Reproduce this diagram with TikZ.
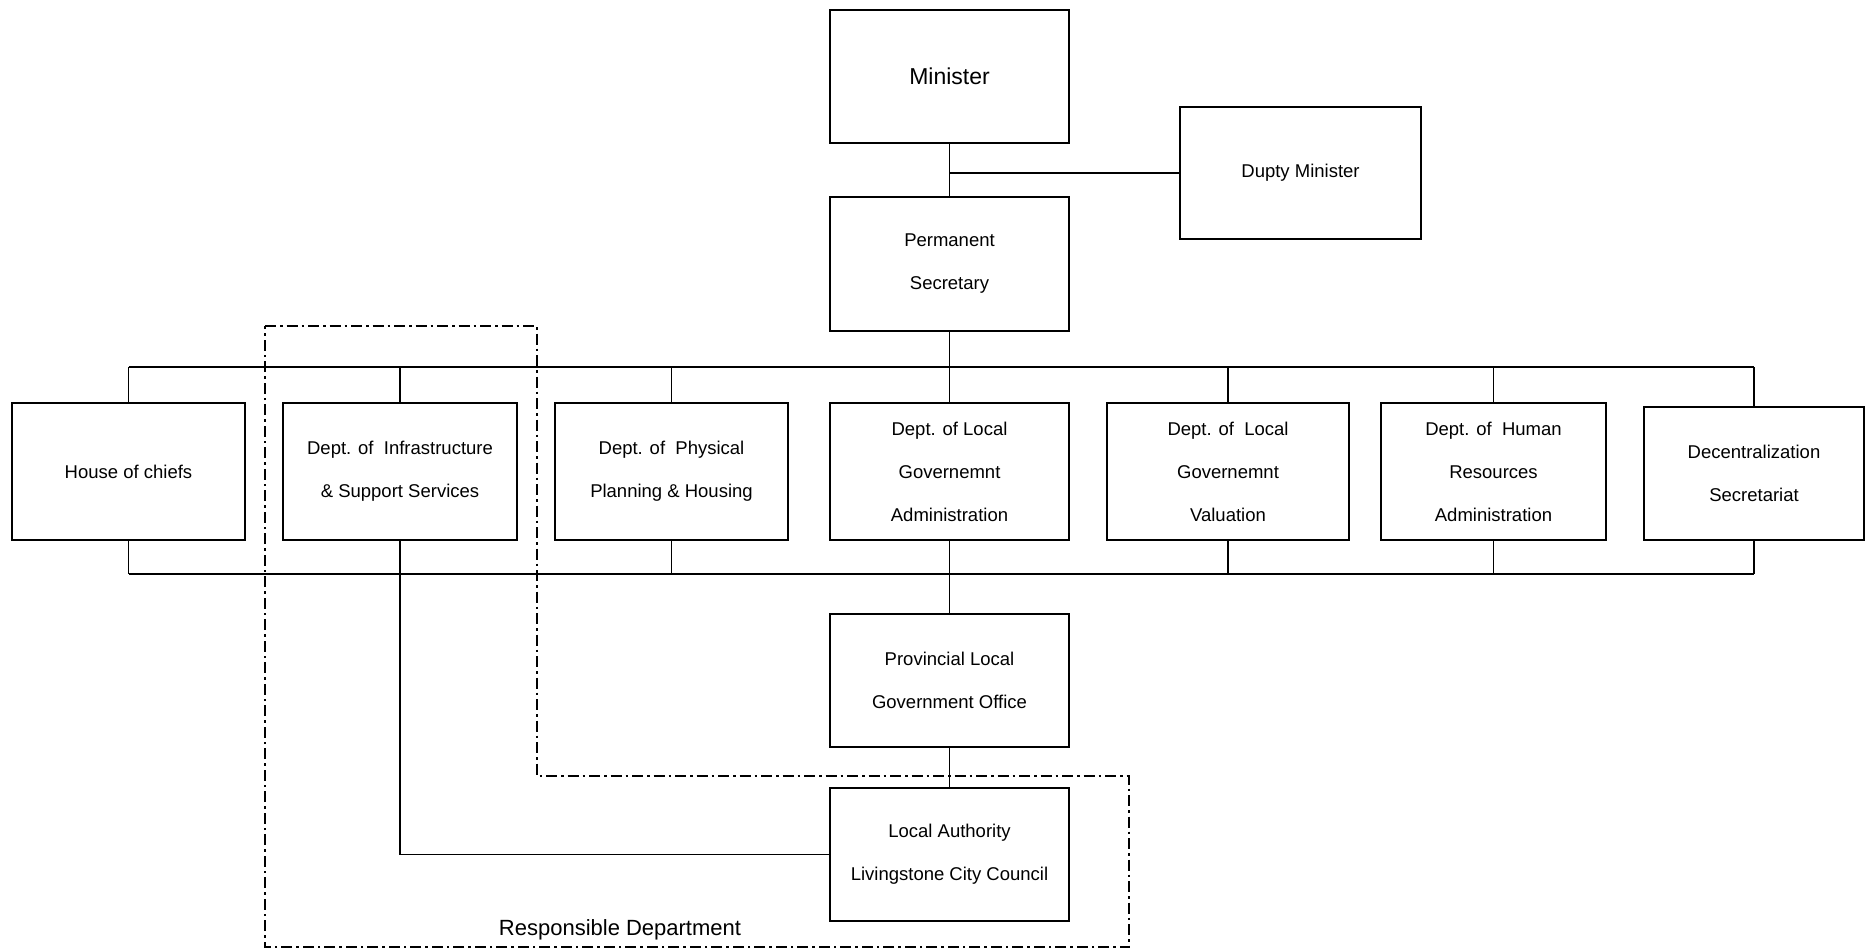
\documentclass[tikz,border=0pt]{standalone}
\usepackage{fontspec}
\setmainfont{Liberation Sans}
\begin{document}
\begin{tikzpicture}[x=1pt,y=-1pt,
  box/.style={draw,line width=1.6pt,inner sep=0pt,align=center,font=\fontsize{18.5}{43}\selectfont},
  conn/.style={line width=1.6pt},
  region/.style={line width=1.6pt,dash pattern=on 11pt off 4pt on 2.5pt off 4pt}]
\useasboundingbox (0,0) rectangle (1872,951);
% top
\node[box,minimum width=239,minimum height=133,font=\fontsize{23}{28}\selectfont] (min) at (949.5,76.5) {Minister};
\node[box,minimum width=241,minimum height=132] (dup) at (1300.5,173) {Dupty Minister};
\node[box,minimum width=239,minimum height=134] (ps) at (949.5,264) {Permanent\\Secretary};
% departments
\node[box,minimum width=233,minimum height=137] (hoc) at (128.5,471.5) {House of chiefs};
\node[box,minimum width=234,minimum height=137] (infra) at (400,471.5) {Dept. of\ \ Infrastructure\\\& Support Services};
\node[box,minimum width=233,minimum height=137] (phys) at (671.5,471.5) {Dept. of\ \ Physical\\Planning \& Housing};
\node[box,minimum width=239,minimum height=137] (lga) at (949.5,471.5) {Dept. of Local\\Governemnt\\Administration};
\node[box,minimum width=242,minimum height=137] (val) at (1228,471.5) {Dept. of\ \ Local\\Governemnt\\Valuation};
\node[box,minimum width=225,minimum height=137] (hr) at (1493.5,471.5) {Dept. of\ \ Human\\Resources\\Administration};
\node[box,minimum width=220,minimum height=133] (dec) at (1754,473.5) {Decentralization\\Secretariat};
% lower
\node[box,minimum width=239,minimum height=133] (plgo) at (949.5,680.5) {Provincial Local\\Government Office};
\node[box,minimum width=239,minimum height=133] (la) at (949.5,854.5) {Local Authority\\Livingstone City Council};
% coordinates of buses
\coordinate (tb) at (949.5,367);
\coordinate (bb) at (949.5,574);
% connectors
\draw[conn] (min.south) -- (ps.north);
\draw[conn] (dup.west) -- (dup.west -| min.south);
\draw[conn] (ps.south) -- (lga.north);
\draw[conn] (hoc.north |- tb) -- (dec.north |- tb);
\foreach \n in {hoc,infra,phys,val,hr,dec}{\draw[conn] (\n.north) -- (\n.north |- tb);}
\draw[conn] (hoc.south |- bb) -- (dec.south |- bb);
\foreach \n in {hoc,phys,lga,val,hr,dec}{\draw[conn] (\n.south) -- (\n.south |- bb);}
\draw[conn] (lga.south) -- (plgo.north);
\draw[conn] (plgo.south) -- (la.north);
\draw[conn] (infra.south) -- (infra.south |- la.west) -- (la.west);
% responsible department region
\draw[region] (265,326) -- (537,326) -- (537,776) -- (1129,776) -- (1129,947) -- (265,947) -- cycle;
\node[font=\fontsize{22}{26}\selectfont,inner sep=0pt] (rd) at (620,930) {Responsible Department};
\end{tikzpicture}
\end{document}
